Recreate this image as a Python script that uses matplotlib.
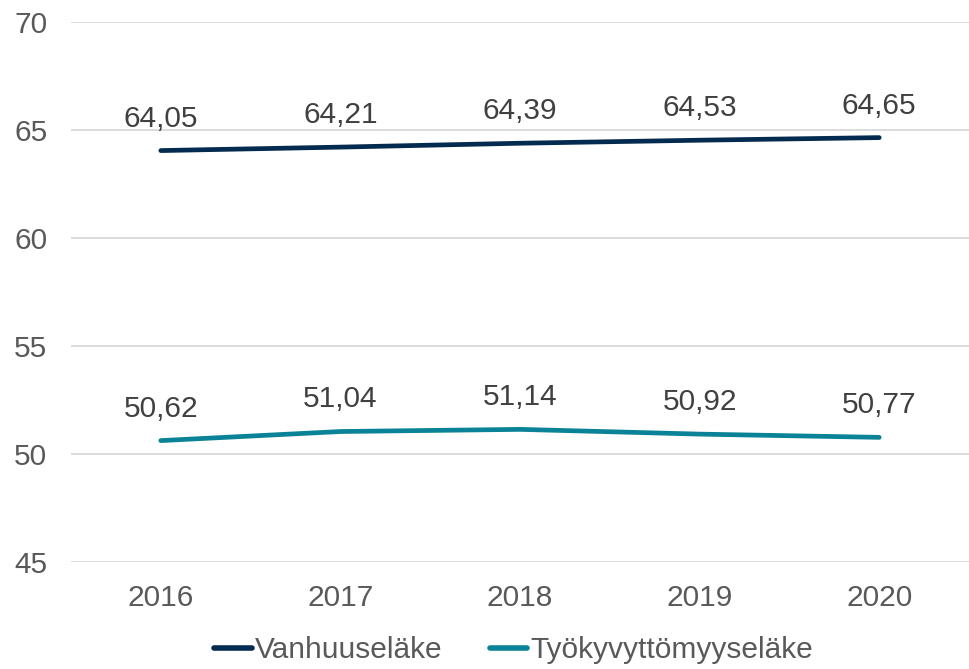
import numpy as np
import matplotlib.pyplot as plt
from matplotlib.lines import Line2D

plt.rcParams['font.family'] = ['Liberation Sans', 'DejaVu Sans']

years = ["2016", "2017", "2018", "2019", "2020"]
vanhuus = [64.05, 64.21, 64.39, 64.53, 64.65]
tyokyvyt = [50.62, 51.04, 51.14, 50.92, 50.77]
series_names = ["Vanhuuseläke", "Työkyvyttömyyseläke"]
colors = ["#032B4F", "#0A8297"]

fig = plt.figure(figsize=(9.69, 6.69), dpi=100)
ax = fig.add_axes([0.0733, 0.16, 0.9267, 0.807])

x = np.arange(len(years))
for vals, color in [(vanhuus, colors[0]), (tyokyvyt, colors[1])]:
    ax.plot(x, vals, color=color, lw=3.4, solid_capstyle="round", zorder=3)
    for xi, v in zip(x, vals):
        ax.annotate(f"{v:.2f}".replace(".", ","), (xi, v), xytext=(0, 13),
                    textcoords="offset points", ha="center", va="bottom",
                    fontsize=21.5, color="#404040")

ax.set_xlim(-0.5, len(years) - 0.5)
ax.set_ylim(45, 70)
ax.set_yticks(np.arange(45, 71, 5))
ax.set_xticks(x)
ax.set_xticklabels(years)
ax.yaxis.grid(True, color="#D9D9D9", lw=1.3)
ax.set_axisbelow(True)
for s in ax.spines.values():
    s.set_visible(False)
ax.tick_params(length=0, labelsize=21.5, colors="#595959")
ax.tick_params(axis="x", pad=16)
ax.tick_params(axis="y", pad=17)

handles = [Line2D([0], [0], color=c, lw=4, solid_capstyle="round") for c in colors]
fig.legend(handles, series_names, loc="lower center", bbox_to_anchor=(0.53, -0.033),
           ncol=2, frameon=False, fontsize=21.5, handlelength=1.25, handletextpad=0.1,
           columnspacing=1.6, labelcolor="#595959")

fig.savefig("out.png", dpi=100)
